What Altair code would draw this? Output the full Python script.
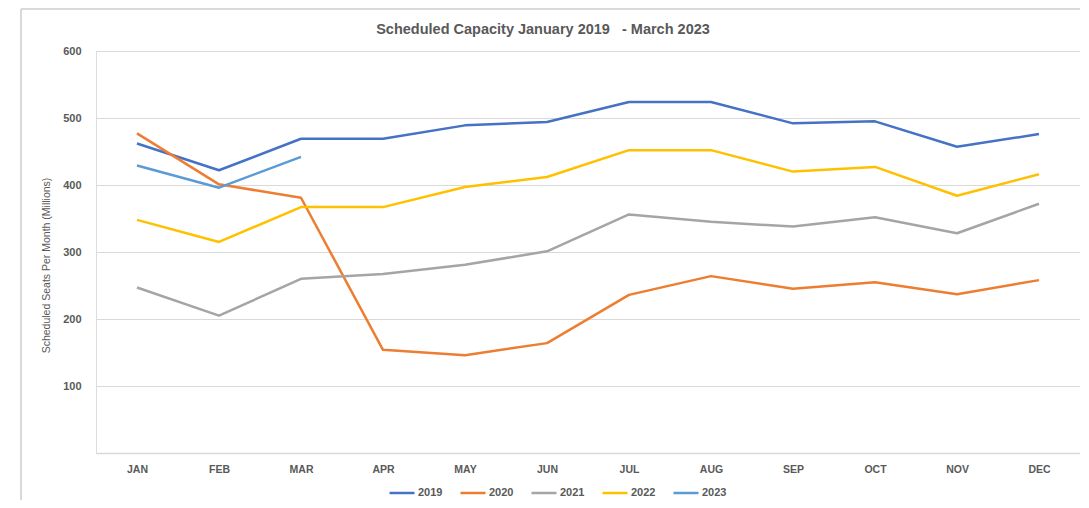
import altair as alt
import pandas as pd

months = ["JAN", "FEB", "MAR", "APR", "MAY", "JUN", "JUL", "AUG", "SEP", "OCT", "NOV", "DEC"]
years = ["2019", "2020", "2021", "2022", "2023"]
colors = ["#4472C4", "#ED7D31", "#A5A5A5", "#FFC000", "#5B9BD5"]

v2019 = [462, 422, 469, 469, 489, 494, 524, 524, 492, 495, 457, 476]
v2020 = [477, 401, 381, 154, 146, 164, 236, 264, 245, 255, 237, 258]
v2021 = [247, 205, 260, 267, 281, 301, 356, 345, 338, 352, 328, 372]
v2022 = [348, 315, 367, 367, 397, 412, 452, 452, 420, 427, 384, 416]
v2023 = [429, 396, 442]

y_ticks = [0, 100, 200, 300, 400, 500, 600]

series = {"2019": v2019, "2020": v2020, "2021": v2021, "2022": v2022, "2023": v2023}
rows = []
for yr, vals in series.items():
    for m, v in zip(months, vals):
        rows.append({"month": m, "year": yr, "value": v})
df = pd.DataFrame(rows)

grey = "#595959"
font = "Liberation Sans"

lines = alt.Chart(df).mark_line(strokeWidth=2.5, strokeJoin="round").encode(
    x=alt.X("month:N", sort=months, scale=alt.Scale(type="point", padding=0.5),
            axis=alt.Axis(title=None, ticks=False, grid=False, domainColor="#D9D9D9",
                          domainWidth=1.5, labelPadding=11, labelFontSize=10.5,
                          labelFontWeight="bold", labelColor=grey, labelFont=font, labelAngle=0)),
    y=alt.Y("value:Q", scale=alt.Scale(domain=[0, 600], nice=False),
            axis=alt.Axis(values=y_ticks, title="Scheduled Seats Per Month (Millions)",
                          titleFontSize=10.5, titleFontWeight="normal", titleColor=grey,
                          titleFont=font, titleX=-50, titleY=214, titleAngle=-90,
                          titleBaseline="middle", titleAlign="center",
                          labelExpr="datum.value == 0 ? '' : datum.label",
                          domain=False, ticks=False, gridColor="#D9D9D9", gridWidth=1.2,
                          labelPadding=15, labelFontSize=11, labelFontWeight="bold",
                          labelColor=grey, labelFont=font)),
    color=alt.Color("year:N", scale=alt.Scale(domain=years, range=colors),
                    legend=alt.Legend(title=None, orient="none", direction="horizontal",
                                      legendX=292, legendY=428, symbolType="stroke",
                                      symbolSize=625, symbolStrokeWidth=2.5, labelOffset=2,
                                      columnPadding=12, labelFontSize=11, padding=0,
                                      labelFontWeight="bold", labelColor=grey, labelFont=font)),
)

frame_top = alt.Chart(df).mark_rule(color="#D9D9D9", strokeWidth=1.5).encode(
    x=alt.value(-75), x2=alt.value(1010), y=alt.value(-42)
)
frame_left = alt.Chart(df).mark_rule(color="#D9D9D9", strokeWidth=1.5).encode(
    x=alt.value(-75), y=alt.value(-42), y2=alt.value(460)
)

chart = alt.layer(frame_top, frame_left, lines).properties(
    width=984,
    height=402,
    autosize=alt.AutoSizeParams(type="none"),
    padding={"left": 88, "top": 43, "right": 0, "bottom": 47},
    title=alt.TitleParams("Scheduled Capacity January 2019\u00a0\u00a0\u00a0- March 2023",
                          anchor="middle", dx=-45, dy=43, offset=14, fontSize=14.5,
                          fontWeight="bold", color=grey, font=font),
).configure_view(stroke=None).configure(background="white")

chart.save("out.html", embed_options={"renderer": "svg", "actions": False})
